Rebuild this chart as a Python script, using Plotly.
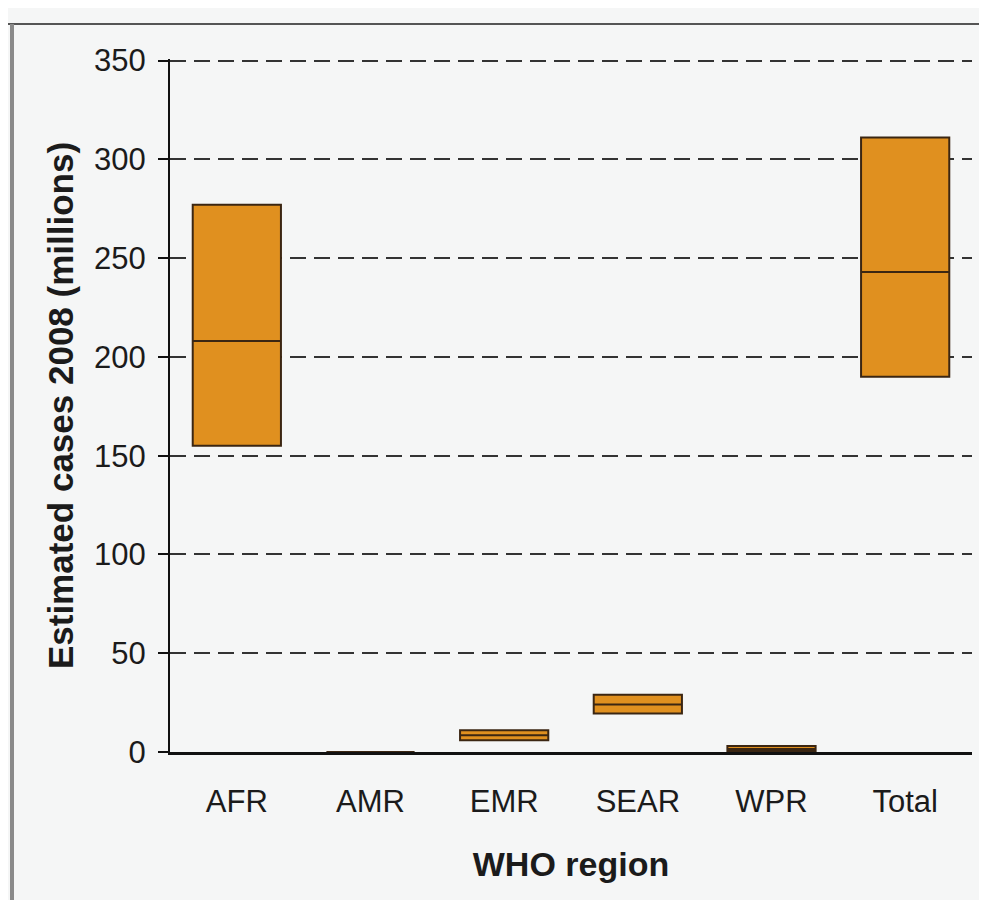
import plotly.graph_objects as go

# ---- data ----
regions = ["AFR", "AMR", "EMR", "SEAR", "WPR", "Total"]
q1_vals = [155, 0.0, 6, 19.5, 0.5, 190]
median_vals = [208, 0.0, 8.5, 24, 1.5, 243]
q3_vals = [277, 0.0, 11, 29, 3, 311]
y_ticks = [0, 50, 100, 150, 200, 250, 300, 350]

FILL = "#e0901f"
EDGE = "#3b2612"
INK = "#1b1b1b"
BG = "#f5f6f6"

fig = go.Figure()
fig.add_trace(go.Box(
    x=regions,
    q1=q1_vals,
    median=median_vals,
    q3=q3_vals,
    lowerfence=q1_vals,
    upperfence=q3_vals,
    width=0.66,
    whiskerwidth=0,
    fillcolor=FILL,
    line=dict(color=EDGE, width=2),
    showlegend=False,
    hoverinfo="skip",
))

PW, PH = 802, 693  # plot area size in px (for frame decoration)

fig.update_layout(
    width=979,
    height=892,
    paper_bgcolor=BG,
    plot_bgcolor=BG,
    margin=dict(l=162, r=15, t=51, b=148),
    font=dict(family="Liberation Sans, Arial, sans-serif", color=INK),
    xaxis=dict(
        type="category",
        range=[-0.5, 5.5],
        showgrid=False,
        showline=True,
        linecolor="#111111",
        linewidth=3,
        ticks="",
        tickfont=dict(size=31, color=INK),
        ticklabelstandoff=20,
        title=dict(text="<b>WHO region</b>", font=dict(size=34, color=INK), standoff=34),
        zeroline=False,
    ),
    yaxis=dict(
        range=[0, 350.8],
        tickvals=y_ticks,
        showgrid=True,
        gridcolor="#333333",
        gridwidth=1.6,
        griddash="16px,8px",
        showline=True,
        linecolor="#111111",
        linewidth=2,
        ticks="outside",
        ticklen=10,
        tickwidth=2,
        tickcolor="#111111",
        tickfont=dict(size=31, color=INK),
        ticklabelstandoff=6,
        title=dict(text="<b>Estimated cases 2008 (millions)</b>", font=dict(size=35, color=INK), standoff=10),
        zeroline=False,
    ),
    shapes=[
        dict(type="line", xref="paper", yref="paper", x0=-170/PW, x1=1.03, y0=1 + 35/PH, y1=1 + 35/PH,
             line=dict(color="#555555", width=2)),
        dict(type="line", xref="paper", yref="paper", x0=-158/PW, x1=-158/PW, y0=1 + 35/PH, y1=-160/PH,
             line=dict(color="#8a8a8a", width=4)),
        dict(type="line", xref="paper", yref="paper", x0=-170/PW, x1=1.03, y0=1 + 57/PH, y1=1 + 57/PH,
             line=dict(color="#9a9a9a", width=2)),
    ],
)

fig.write_html("out.html")
